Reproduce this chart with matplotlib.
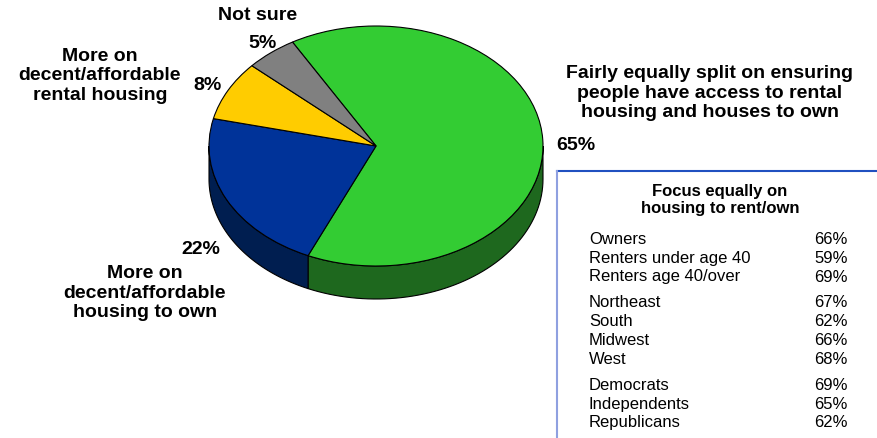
import numpy as np
import matplotlib.pyplot as plt

# --- data ---
answers = ["Fairly equally split on ensuring\npeople have access to rental\nhousing and houses to own",
           "More on\ndecent/affordable\nhousing to own",
           "More on\ndecent/affordable\nrental housing",
           "Not sure"]
shares = [65, 22, 8, 5]

groups = ["Owners", "Renters under age 40", "Renters age 40/over",
          "Northeast", "South", "Midwest", "West",
          "Democrats", "Independents", "Republicans"]
group_shares = [66, 59, 69, 67, 62, 66, 68, 69, 65, 62]

top_colors = ["#33CC33", "#003399", "#FFCC00", "#808080"]
side_colors = ["#1E681E", "#001E50", "#B38F00", "#555555"]

W, H = 878, 439
fig = plt.figure(figsize=(W / 100, H / 100), dpi=100)
plt.rcParams['font.family'] = ['Liberation Sans', 'DejaVu Sans']

# pixel helpers for placing text
def px(x, y):
    return x / W, 1 - y / H

# --- pie axes: squashed so the pie reads as a tilted disc ---
cx, cy, rx, ry = 376, 147, 167, 120
depth = 33 / ry
ylo, yhi = -1.6, 1.2
ax = fig.add_axes([(cx - 1.25 * rx) / W, 1 - (cy - ylo * ry) / H,
                   2.5 * rx / W, (yhi - ylo) * ry / H])

wedges, _ = ax.pie(shares, colors=top_colors, startangle=120, counterclock=False,
                   wedgeprops=dict(edgecolor="black", linewidth=0.8))
for w in wedges:
    w.set_zorder(3)
ax.set_aspect("auto")
ax.set_xlim(-1.25, 1.25)
ax.set_ylim(ylo, yhi)

# side walls for the front half of each slice
for w, c in zip(wedges, side_colors):
    t1, t2 = w.theta1, w.theta2
    for k in (-360, 0, 360):
        a = max(t1, -180 + k)
        b = min(t2, 0 + k)
        if b <= a:
            continue
        t = np.radians(np.linspace(a, b, 60))
        xs = np.concatenate([np.cos(t), np.cos(t[::-1])])
        ys = np.concatenate([np.sin(t), np.sin(t[::-1]) - depth])
        ax.fill(xs, ys, color=c, edgecolor="black", linewidth=0.8, zorder=2)

# --- slice labels ---
bold = dict(fontweight="bold", fontsize=14, ha="center", va="center",
            linespacing=1.2)
fig.text(*px(258, 16), answers[3], **bold)
fig.text(*px(263, 43), f"{shares[3]}%", **bold)
fig.text(*px(100, 76), answers[2], **bold)
fig.text(*px(208, 85), f"{shares[2]}%", **bold)
fig.text(*px(201, 250), f"{shares[1]}%", **bold)
fig.text(*px(145, 293), answers[1], **bold)
fig.text(*px(710, 93), answers[0], **bold)
fig.text(*px(576, 145), f"{shares[0]}%", **bold)

# --- inset box with group breakdown ---
box_left, box_top = 557.5, 172
fig.add_artist(plt.Line2D([box_left / W, 1], [1 - box_top / H] * 2,
                          color="#2050C0", linewidth=1.5))
fig.add_artist(plt.Line2D([box_left / W] * 2, [1 - box_top / H, 0],
                          color="#8FA0E0", linewidth=1.5))

fig.text(*px(720, 200), "Focus equally on\nhousing to rent/own", fontweight="bold",
         fontsize=12, ha="center", va="center", linespacing=1.12)

row_y = [240, 259, 277, 303, 322, 341, 360, 386, 405, 423]
for name, val, y in zip(groups, group_shares, row_y):
    fig.text(*px(589, y), name, fontsize=12, ha="left", va="center")
    fig.text(*px(848, y), f"{val}%", fontsize=12, ha="right", va="center")

fig.savefig("out.png", dpi=100)
